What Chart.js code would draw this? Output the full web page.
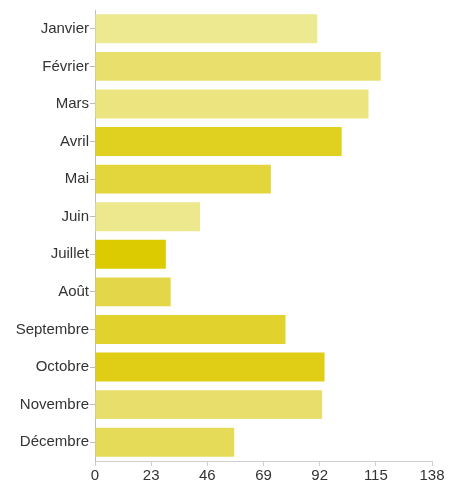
<!DOCTYPE html>
<html>
<head>
<meta charset="utf-8">
<script src="https://cdn.jsdelivr.net/npm/chart.js@4"></script>
<style>
    html, body { margin: 0; padding: 0; background: #fff; }
    #chart { display: block; }
</style>
</head>
<body>
<canvas id="chart" width="456" height="487"></canvas>
<script>
// Month labels (y axis)
const months = ['Janvier', 'Février', 'Mars', 'Avril', 'Mai', 'Juin',
    'Juillet', 'Août', 'Septembre', 'Octobre', 'Novembre', 'Décembre'];

// Values
const values = [91, 117, 112, 101, 72, 43, 29, 31, 78, 94, 93, 57];

// One shade of yellow per bar
const barColors = ['#ede991', '#e9df6d', '#ece57f', '#e0d120', '#e3d53c', '#ede78d',
    '#dccb00', '#e3d649', '#e1d22d', '#dfcd16', '#e8de6b', '#e6da59'];

// x axis ticks
const xTicks = [0, 23, 46, 69, 92, 115, 138];

const ctx = document.getElementById('chart');

new Chart(ctx, {
    type: 'bar',
    data: {
        labels: months,
        datasets: [{
            data: values,
            backgroundColor: barColors,
            borderWidth: 0,
            barPercentage: 0.77,
            categoryPercentage: 1
        }]
    },
    options: {
        indexAxis: 'y',
        responsive: false,
        animation: false,
        layout: {
            padding: { top: 8, right: 24, left: 0, bottom: 0 }
        },
        plugins: {
            legend: { display: false },
            tooltip: { enabled: false }
        },
        scales: {
            x: {
                min: 0,
                max: 138,
                afterBuildTicks: (scale) => {
                    scale.ticks = xTicks.map(v => ({ value: v }));
                },
                afterFit: (scale) => { scale.height = 26; },
                grid: {
                    drawOnChartArea: false,
                    drawTicks: true,
                    tickLength: 5,
                    color: '#cfcfcf'
                },
                border: { color: '#cfcfcf' },
                ticks: {
                    color: '#333',
                    padding: 1,
                    maxRotation: 0,
                    font: { family: '"Liberation Sans", Arial, sans-serif', size: 15 }
                }
            },
            y: {
                afterFit: (scale) => { scale.width = 95; },
                grid: {
                    offset: false,
                    drawOnChartArea: false,
                    drawTicks: true,
                    tickLength: 5,
                    color: '#bdbdbd'
                },
                border: { color: '#bdbdbd' },
                ticks: {
                    color: '#333',
                    padding: 1,
                    font: { family: '"Liberation Sans", Arial, sans-serif', size: 15 }
                }
            }
        }
    }
});
</script>
</body>
</html>
